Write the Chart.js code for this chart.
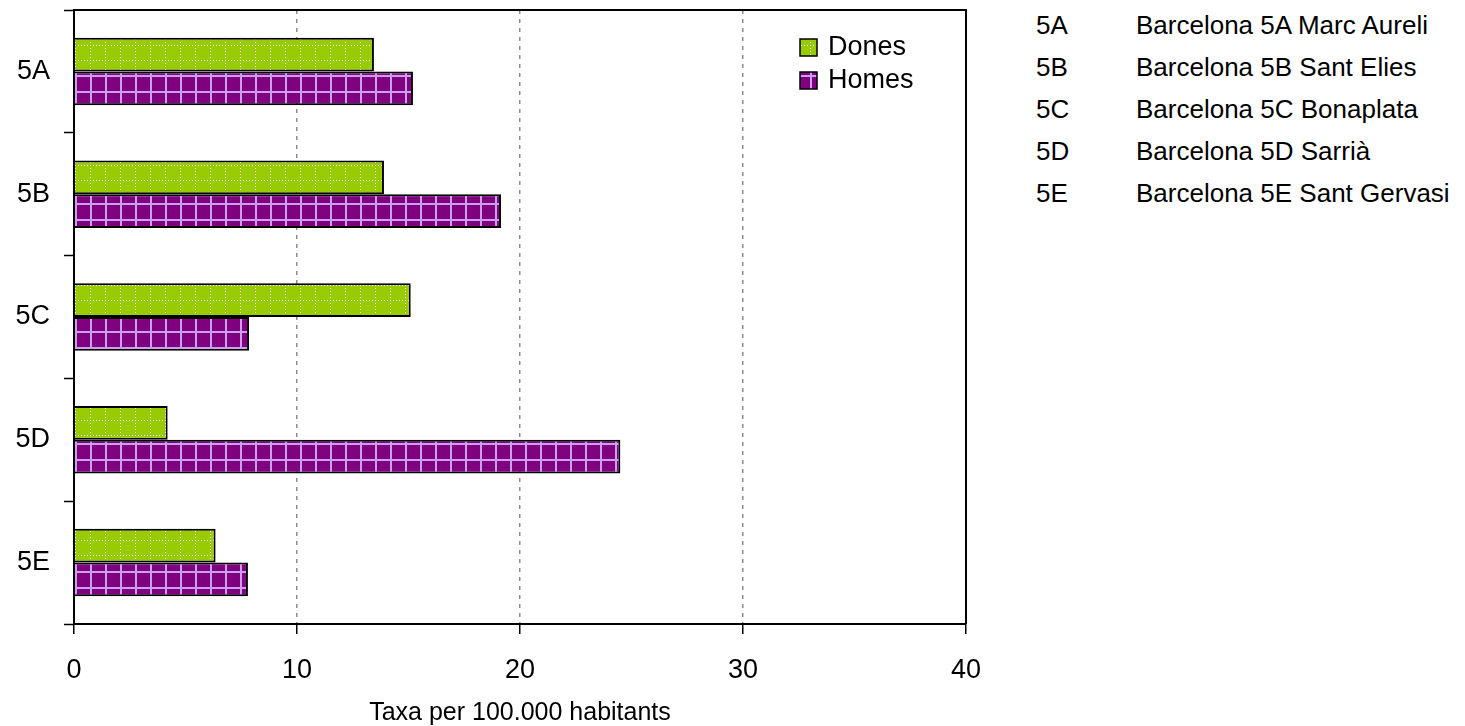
<!DOCTYPE html>
<html>
<head>
<meta charset="utf-8">
<title>Taxa per 100.000 habitants</title>
<script src="https://cdn.jsdelivr.net/npm/chart.js@4/dist/chart.umd.min.js"></script>
<style>
  body { margin: 0; background: #fff; font-family: "Liberation Sans", Arial, sans-serif; }
  #wrap { position: absolute; left: 0; top: 0; width: 1000px; height: 726px; }
  #key { position: absolute; left: 1036px; top: 4px; font-size: 26px; color: #000; }
  #key div { height: 42px; line-height: 42px; white-space: nowrap; }
  #key span { display: inline-block; width: 100px; }
</style>
</head>
<body>
<div id="wrap"><canvas id="chart"></canvas></div>
<div id="key"></div>
<script>
var areas = ['5A', '5B', '5C', '5D', '5E'];
var areaNames = [
  'Barcelona 5A Marc Aureli',
  'Barcelona 5B Sant Elies',
  'Barcelona 5C Bonaplata',
  'Barcelona 5D Sarrià',
  'Barcelona 5E Sant Gervasi'
];
var dones = [13.45, 13.9, 15.1, 4.2, 6.35];
var homes = [15.2, 19.15, 7.85, 24.5, 7.8];
var xTicks = [0, 10, 20, 30, 40];
var FONT = '"Liberation Sans", Arial, sans-serif';

// side list of area codes
var key = document.getElementById('key');
areas.forEach(function(a, i) {
  var row = document.createElement('div');
  var code = document.createElement('span');
  code.textContent = a;
  row.appendChild(code);
  row.appendChild(document.createTextNode(areaNames[i]));
  key.appendChild(row);
});

function greenPattern() {
  var c = document.createElement('canvas');
  c.width = 15; c.height = 15;
  var g = c.getContext('2d');
  g.fillStyle = '#99cc00';
  g.fillRect(0, 0, 15, 15);
  g.fillStyle = '#ffffff';
  for (var i = 0; i < 15; i += 3) {
    g.fillRect(i, 0, 1, 1);
    g.fillRect(0, i, 1, 1);
  }
  return g.createPattern(c, 'repeat');
}

function purplePattern() {
  var c = document.createElement('canvas');
  c.width = 15; c.height = 16;
  var g = c.getContext('2d');
  g.fillStyle = '#800080';
  g.fillRect(0, 0, 15, 16);
  g.fillStyle = '#c9a0ec';
  g.fillRect(0, 0, 2, 16);
  g.fillRect(0, 0, 15, 2);
  var p = g.createPattern(c, 'repeat');
  if (p.setTransform && window.DOMMatrix) p.setTransform(new DOMMatrix().translate(0, 11));
  return p;
}

// top and right edges of the plot frame
var frame = {
  id: 'frame',
  afterDatasetsDraw: function(chart) {
    var a = chart.chartArea, ctx = chart.ctx;
    ctx.save();
    ctx.strokeStyle = '#000';
    ctx.lineWidth = 2;
    ctx.beginPath();
    ctx.moveTo(a.left, a.top);
    ctx.lineTo(a.right, a.top);
    ctx.lineTo(a.right, a.bottom);
    ctx.stroke();
    ctx.restore();
  }
};

// legend drawn inside the plot, top right
var innerLegend = {
  id: 'innerLegend',
  afterDraw: function(chart) {
    var a = chart.chartArea, ctx = chart.ctx;
    var x = a.right - 166, y = a.top + 37;
    ctx.save();
    ctx.font = '27px ' + FONT;
    ctx.textBaseline = 'middle';
    chart.data.datasets.forEach(function(ds, i) {
      var yy = y + i * 33;
      ctx.fillStyle = ds.backgroundColor;
      ctx.fillRect(x, yy - 8, 17, 17);
      ctx.strokeStyle = '#000';
      ctx.lineWidth = 1.5;
      ctx.strokeRect(x, yy - 8, 17, 17);
      ctx.fillStyle = '#000';
      ctx.fillText(ds.label, x + 28, yy + 1);
    });
    ctx.restore();
  }
};

new Chart(document.getElementById('chart'), {
  type: 'bar',
  data: {
    labels: areas,
    datasets: [
      { label: 'Dones', data: dones, backgroundColor: greenPattern(), borderColor: '#000', borderWidth: 2 },
      { label: 'Homes', data: homes, backgroundColor: purplePattern(), borderColor: '#000', borderWidth: 2 }
    ]
  },
  options: {
    indexAxis: 'y',
    responsive: true,
    maintainAspectRatio: false,
    animation: false,
    layout: { padding: { top: 10, right: 34, left: 0, bottom: 0 } },
    datasets: { bar: { categoryPercentage: 0.55, barPercentage: 1 } },
    plugins: { legend: { display: false }, tooltip: { enabled: false } },
    scales: {
      x: {
        min: xTicks[0],
        max: xTicks[xTicks.length - 1],
        afterBuildTicks: function(s) { s.ticks = xTicks.map(function(v) { return { value: v }; }); },
        afterFit: function(s) { s.height = 102; s.paddingLeft = 0; s.paddingRight = 0; },
        ticks: { color: '#000', font: { family: FONT, size: 27 }, padding: 20 },
        grid: {
          color: function(c) {
            var v = c.tick ? c.tick.value : null;
            return (v === xTicks[0] || v === xTicks[xTicks.length - 1]) ? 'rgba(0,0,0,0)' : '#8c8c8c';
          },
          lineWidth: 1.5,
          tickColor: '#000',
          tickWidth: 1.5,
          tickLength: 10,
          tickBorderDash: []
        },
        border: { color: '#000', width: 2, dash: [4, 5] },
        title: {
          display: true,
          text: 'Taxa per 100.000 habitants',
          color: '#000',
          font: { family: FONT, size: 25 },
          padding: { top: 0, bottom: -2 }
        }
      },
      y: {
        afterFit: function(s) { s.width = 74; s.paddingTop = 0; s.paddingBottom = 0; },
        ticks: { color: '#000', font: { family: FONT, size: 27 }, padding: 14 },
        grid: { drawOnChartArea: false, tickColor: '#000', tickWidth: 1.5, tickLength: 10 },
        border: { color: '#000', width: 2 }
      }
    }
  },
  plugins: [frame, innerLegend]
});
</script>
</body>
</html>
